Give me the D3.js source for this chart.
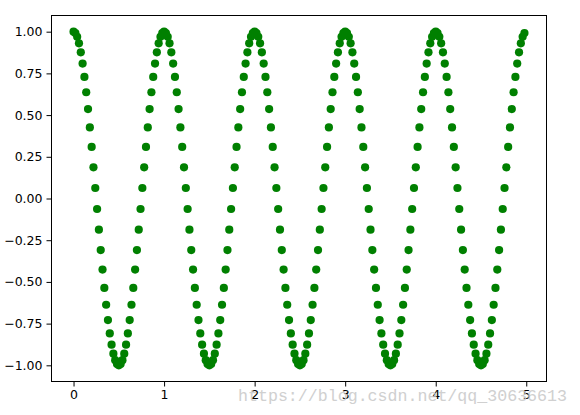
<!DOCTYPE html>
<html>
<head>
<meta charset="utf-8">
<script src="https://cdn.jsdelivr.net/npm/d3@7"></script>
<style>
  body { margin: 0; background: #fff; }
  svg { display: block; }
  .tick text { font-family: "DejaVu Sans", sans-serif; font-size: 12.5px; fill: #000; }
</style>
</head>
<body>
<svg width="580" height="415"></svg>
<script>
// sample positions
var xValues = [
  0.00,0.02,0.04,0.06,0.08,0.10,0.12,0.14,0.16,0.18,
  0.20,0.22,0.24,0.26,0.28,0.30,0.32,0.34,0.36,0.38,
  0.40,0.42,0.44,0.46,0.48,0.50,0.52,0.54,0.56,0.58,
  0.60,0.62,0.64,0.66,0.68,0.70,0.72,0.74,0.76,0.78,
  0.80,0.82,0.84,0.86,0.88,0.90,0.92,0.94,0.96,0.98,
  1.00,1.02,1.04,1.06,1.08,1.10,1.12,1.14,1.16,1.18,
  1.20,1.22,1.24,1.26,1.28,1.30,1.32,1.34,1.36,1.38,
  1.40,1.42,1.44,1.46,1.48,1.50,1.52,1.54,1.56,1.58,
  1.60,1.62,1.64,1.66,1.68,1.70,1.72,1.74,1.76,1.78,
  1.80,1.82,1.84,1.86,1.88,1.90,1.92,1.94,1.96,1.98,
  2.00,2.02,2.04,2.06,2.08,2.10,2.12,2.14,2.16,2.18,
  2.20,2.22,2.24,2.26,2.28,2.30,2.32,2.34,2.36,2.38,
  2.40,2.42,2.44,2.46,2.48,2.50,2.52,2.54,2.56,2.58,
  2.60,2.62,2.64,2.66,2.68,2.70,2.72,2.74,2.76,2.78,
  2.80,2.82,2.84,2.86,2.88,2.90,2.92,2.94,2.96,2.98,
  3.00,3.02,3.04,3.06,3.08,3.10,3.12,3.14,3.16,3.18,
  3.20,3.22,3.24,3.26,3.28,3.30,3.32,3.34,3.36,3.38,
  3.40,3.42,3.44,3.46,3.48,3.50,3.52,3.54,3.56,3.58,
  3.60,3.62,3.64,3.66,3.68,3.70,3.72,3.74,3.76,3.78,
  3.80,3.82,3.84,3.86,3.88,3.90,3.92,3.94,3.96,3.98,
  4.00,4.02,4.04,4.06,4.08,4.10,4.12,4.14,4.16,4.18,
  4.20,4.22,4.24,4.26,4.28,4.30,4.32,4.34,4.36,4.38,
  4.40,4.42,4.44,4.46,4.48,4.50,4.52,4.54,4.56,4.58,
  4.60,4.62,4.64,4.66,4.68,4.70,4.72,4.74,4.76,4.78,
  4.80,4.82,4.84,4.86,4.88,4.90,4.92,4.94,4.96,4.98
]

// values
var yValues = [
  1.000,0.992,0.969,0.930,0.876,0.809,0.729,0.637,0.536,0.426,
  0.309,0.187,0.063,-0.063,-0.187,-0.309,-0.426,-0.536,-0.637,-0.729,
  -0.809,-0.876,-0.930,-0.969,-0.992,-1.000,-0.992,-0.969,-0.930,-0.876,
  -0.809,-0.729,-0.637,-0.536,-0.426,-0.309,-0.187,-0.063,0.063,0.187,
  0.309,0.426,0.536,0.637,0.729,0.809,0.876,0.930,0.969,0.992,
  1.000,0.992,0.969,0.930,0.876,0.809,0.729,0.637,0.536,0.426,
  0.309,0.187,0.063,-0.063,-0.187,-0.309,-0.426,-0.536,-0.637,-0.729,
  -0.809,-0.876,-0.930,-0.969,-0.992,-1.000,-0.992,-0.969,-0.930,-0.876,
  -0.809,-0.729,-0.637,-0.536,-0.426,-0.309,-0.187,-0.063,0.063,0.187,
  0.309,0.426,0.536,0.637,0.729,0.809,0.876,0.930,0.969,0.992,
  1.000,0.992,0.969,0.930,0.876,0.809,0.729,0.637,0.536,0.426,
  0.309,0.187,0.063,-0.063,-0.187,-0.309,-0.426,-0.536,-0.637,-0.729,
  -0.809,-0.876,-0.930,-0.969,-0.992,-1.000,-0.992,-0.969,-0.930,-0.876,
  -0.809,-0.729,-0.637,-0.536,-0.426,-0.309,-0.187,-0.063,0.063,0.187,
  0.309,0.426,0.536,0.637,0.729,0.809,0.876,0.930,0.969,0.992,
  1.000,0.992,0.969,0.930,0.876,0.809,0.729,0.637,0.536,0.426,
  0.309,0.187,0.063,-0.063,-0.187,-0.309,-0.426,-0.536,-0.637,-0.729,
  -0.809,-0.876,-0.930,-0.969,-0.992,-1.000,-0.992,-0.969,-0.930,-0.876,
  -0.809,-0.729,-0.637,-0.536,-0.426,-0.309,-0.187,-0.063,0.063,0.187,
  0.309,0.426,0.536,0.637,0.729,0.809,0.876,0.930,0.969,0.992,
  1.000,0.992,0.969,0.930,0.876,0.809,0.729,0.637,0.536,0.426,
  0.309,0.187,0.063,-0.063,-0.187,-0.309,-0.426,-0.536,-0.637,-0.729,
  -0.809,-0.876,-0.930,-0.969,-0.992,-1.000,-0.992,-0.969,-0.930,-0.876,
  -0.809,-0.729,-0.637,-0.536,-0.426,-0.309,-0.187,-0.063,0.063,0.187,
  0.309,0.426,0.536,0.637,0.729,0.809,0.876,0.930,0.969,0.992
]

var xTicks = [0, 1, 2, 3, 4, 5]
var yTicks = [-1.00, -0.75, -0.50, -0.25, 0.00, 0.25, 0.50, 0.75, 1.00]
var watermark = "https://blog.csdn.net/qq_30636613"

const plotLeft = 51, plotRight = 547, plotTop = 15, plotBottom = 382

var svg = d3.select("svg")

// matplotlib style margins, 5% on each side
var xScale = d3.scaleLinear().domain([-0.249, 5.229]).range([plotLeft, plotRight])
var yScale = d3.scaleLinear().domain([-1.1, 1.1]).range([plotBottom, plotTop])

var points = xValues.map((x, i) => ({x: x, y: yValues[i]}))

svg.append("g")
    .selectAll("circle")
    .data(points)
    .enter()
    .append("circle")
    .attr("cx", d => xScale(d.x))
    .attr("cy", d => yScale(d.y))
    .attr("r", 4.1)
    .attr("fill", "#008000")

// axes
var xAxis = d3.axisBottom(xScale)
    .tickValues(xTicks)
    .tickFormat(d3.format("d"))
    .tickSizeInner(4.5)
    .tickSizeOuter(0)
    .tickPadding(4)

var yAxis = d3.axisLeft(yScale)
    .tickValues(yTicks)
    .tickFormat(d3.format(".2f"))
    .tickSizeInner(4.5)
    .tickSizeOuter(0)
    .tickPadding(4)

var gx = svg.append("g")
    .attr("transform", "translate(0," + plotBottom + ")")
    .call(xAxis)
gx.select(".domain").remove()

var gy = svg.append("g")
    .attr("transform", "translate(" + plotLeft + ",0)")
    .call(yAxis)
gy.select(".domain").remove()

svg.selectAll(".tick line").attr("stroke", "#000").attr("stroke-width", 1)

// frame
svg.append("rect")
    .attr("x", plotLeft + 0.5)
    .attr("y", plotTop + 0.5)
    .attr("width", plotRight - plotLeft - 1)
    .attr("height", plotBottom - plotTop - 1)
    .attr("fill", "none")
    .attr("stroke", "#000")
    .attr("stroke-width", 1)

// blog watermark
svg.append("text")
    .attr("x", 238)
    .attr("y", 401)
    .attr("textLength", 329)
    .attr("lengthAdjust", "spacingAndGlyphs")
    .style("font-family", "'Liberation Mono', monospace")
    .style("font-size", "16px")
    .style("fill", "#c8c8c8")
    .style("opacity", 0.85)
    .text(watermark)
</script>
</body>
</html>
